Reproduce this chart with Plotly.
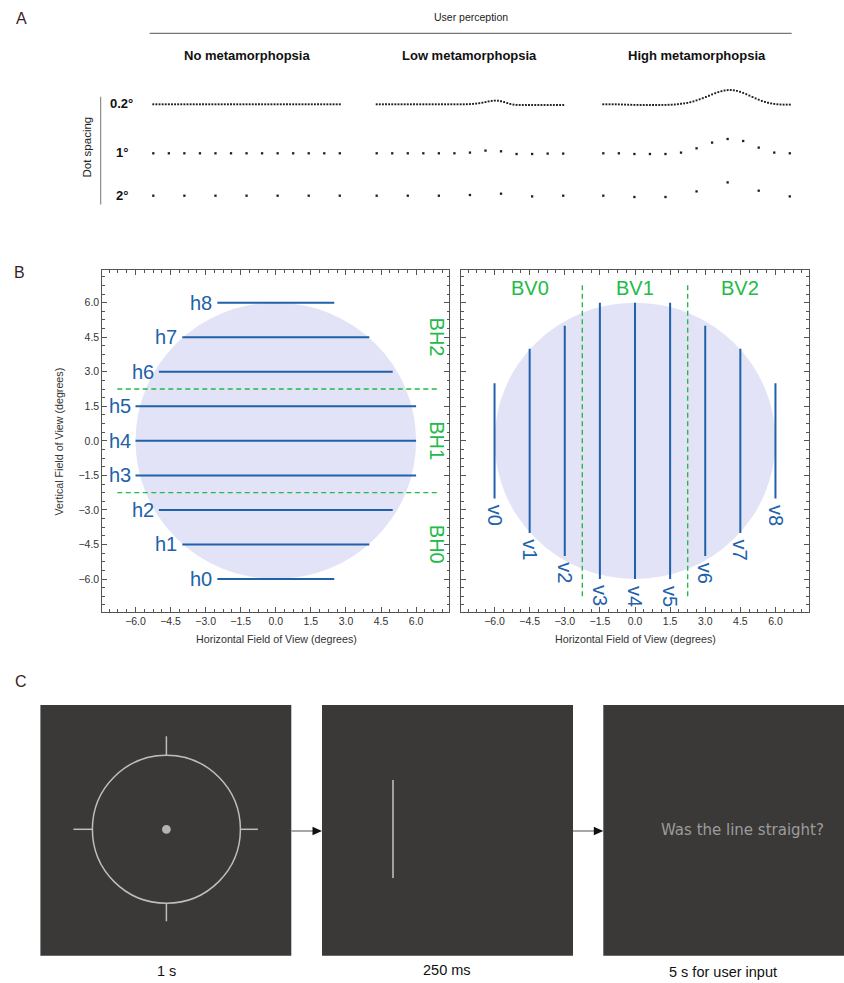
import plotly.graph_objects as go

W, H = 844, 983
def X(px): return px / W
def Y(py): return 1 - py / H

FONT = "Liberation Sans, Arial, Helvetica, sans-serif"

# ---------------- Panel A data ----------------
column_titles = ["No metamorphopsia", "Low metamorphopsia", "High metamorphopsia"]
spacing_labels = ["0.2°", "1°", "2°"]
dot_spacing = [0.2, 1.0, 2.0]          # degrees between dots
field_width = 12.0                      # degrees covered by each row

# perceived vertical displacement of each dot (px, upward positive)
no_02 = [0.0] * 61
no_1 = [0, 0, 0, 0, 0, 0, 0, 0, 0, 0, 0, 0, 0]
no_2 = [0, 0, 0, 0, 0, 0, 0]

low_02 = [0, 0, 0, 0, 0, 0, 0, 0, 0, 0,
          0, 0, 0, 0, 0, 0, 0, 0, 0, 0,
          0, 0, 0, 0, 0, 0, 0, 0, 0, 0.1,
          0.2, 0.4, 0.7, 1.1, 1.6, 2.2, 2.9, 3.4, 3.7, 3.6,
          3.1, 2.2, 1.2, 0.3, -0.3, -0.6, -0.7, -0.7, -0.7, -0.7,
          -0.7, -0.7, -0.7, -0.7, -0.7, -0.7, -0.7, -0.7, -0.7, -0.7,
          -0.7]
low_1 = [0, 0, 0, 0, 0, 0, 0.7, 2.7, 2.0, -0.7, -0.7, -0.3, -0.3]
low_2 = [0, 0, 0, 0.7, 2.0, -0.7, 0]

high_02 = [0, 0, 0, 0, 0, -0.1, -0.2, -0.3, -0.4, -0.5,
           -0.6, -0.6, -0.7, -0.7, -0.7, -0.7, -0.7, -0.7, -0.7, -0.6,
           -0.6, -0.5, -0.4, -0.2, 0.1, 0.5, 0.9, 1.4, 2.1, 2.9,
           3.9, 5.0, 6.1, 7.3, 8.6, 9.9, 11.1, 12.2, 13.1, 13.8,
           14.2, 14.3, 14.0, 13.4, 12.5, 11.4, 10.1, 8.7, 7.3, 5.9,
           4.6, 3.4, 2.4, 1.6, 0.9, 0.4, 0.0, -0.2, -0.3, -0.3,
           -0.3]
high_1 = [0, 0, -0.7, -0.7, -0.7, 0.7, 5.0, 10.7, 14.3, 12.3, 5.7, 0.7, 0]
high_2 = [0, -1.3, -1.3, 4.3, 13.3, 5.0, -0.7]

displacements = [[no_02, no_1, no_2], [low_02, low_1, low_2], [high_02, high_1, high_2]]

# ---------------- Panel B data ----------------
line_pos = [-6.0, -4.5, -3.0, -1.5, 0.0, 1.5, 3.0, 4.5, 6.0]
line_half_len = [2.5, 4.0, 5.0, 6.0, 6.0, 6.0, 5.0, 4.0, 2.5]
h_names = ["h0", "h1", "h2", "h3", "h4", "h5", "h6", "h7", "h8"]
v_names = ["v0", "v1", "v2", "v3", "v4", "v5", "v6", "v7", "v8"]
band_edges = [-2.25, 2.25]
band_centers = [-4.5, 0.0, 4.5]
bh_names = ["BH0", "BH1", "BH2"]
bv_names = ["BV0", "BV1", "BV2"]
field_radius = 6.0
tick_vals = [-6.0, -4.5, -3.0, -1.5, 0.0, 1.5, 3.0, 4.5, 6.0]

# ---------------- Panel C text ----------------
step_durations = ["1 s", "250 ms", "5 s for user input"]
question = "Was the line straight?"

BLUE = "#2161a9"
GREEN = "#22bb48"
LAV = "#e2e3f6"
DARK = "#3a3937"
LABELC = "#3b1e1e"

fig = go.Figure()
layout = dict(width=W, height=H, margin=dict(l=0, r=0, t=0, b=0),
              paper_bgcolor="white", plot_bgcolor="rgba(0,0,0,0)",
              showlegend=False, font=dict(family=FONT, color="#222"))

# ---- Panel A axes
col_start = [153.3, 376.7, 603.3]
col_w = 186.5
pad = col_w / field_width * 0.5
row_base = [104.3, 153.3, 195.7]
for c in range(3):
    key = "xaxis" if c == 0 else f"xaxis{c+1}"
    layout[key] = dict(domain=[X(col_start[c] - pad), X(col_start[c] + col_w + pad)],
                       range=[-0.5, 12.5], visible=False, anchor="y", fixedrange=True)
for r in range(3):
    key = "yaxis" if r == 0 else f"yaxis{r+1}"
    layout[key] = dict(domain=[Y(row_base[r] + 10), Y(row_base[r] - 20)],
                       range=[-10, 20], visible=False, anchor="x", fixedrange=True)

for c in range(3):
    for r in range(3):
        vals = displacements[c][r]
        xs = [i * dot_spacing[r] for i in range(len(vals))]
        fig.add_trace(go.Scatter(
            x=xs, y=vals, mode="markers",
            marker=dict(size=1.9 if r == 0 else 2.3, color="#1e1e1e", symbol="square"),
            xaxis="x" if c == 0 else f"x{c+1}",
            yaxis="y" if r == 0 else f"y{r+1}",
            cliponaxis=False, hoverinfo="skip"))

# ---- Panel B axes
xdomL = [X(102.3), X(449.3)]
xdomR = [X(461.3), X(808.7)]
ydomB = [Y(611.7), Y(270)]
base_ax = dict(range=[-7.42, 7.42], showline=True, linecolor="#555", linewidth=1,
               mirror="allticks", ticks="inside", ticklen=5, tickwidth=1, tickcolor="#555",
               tickvals=tick_vals, tickformat=".1f", showgrid=False, zeroline=False,
               tickfont=dict(family=FONT, size=10.5, color="#333"), fixedrange=True,
               minor=dict(dtick=0.375, tick0=0, ticks="inside", ticklen=2.5,
                          tickcolor="#555", tickwidth=1, showgrid=False))
layout["xaxis4"] = dict(base_ax, domain=xdomL, anchor="y4")
layout["yaxis4"] = dict(base_ax, domain=ydomB, anchor="x4")
layout["xaxis5"] = dict(base_ax, domain=xdomR, anchor="y5")
layout["yaxis5"] = dict(base_ax, domain=ydomB, anchor="x5", showticklabels=False)

shapes = []
annotations = []

def ann(text, x, y, size, color="#222", xref="paper", yref="paper", bold=False,
        angle=0, xanchor="center", yanchor="middle", family=FONT, xshift=0, yshift=0):
    annotations.append(dict(text=f"<b>{text}</b>" if bold else text, x=x, y=y,
                            xref=xref, yref=yref, showarrow=False, textangle=angle,
                            xanchor=xanchor, yanchor=yanchor, xshift=xshift, yshift=yshift,
                            font=dict(size=size, color=color, family=family)))

# field of view discs
for xa, ya in (("x4", "y4"), ("x5", "y5")):
    shapes.append(dict(type="circle", xref=xa, yref=ya, x0=-field_radius, x1=field_radius,
                       y0=-field_radius, y1=field_radius, fillcolor=LAV,
                       line=dict(width=0), layer="below"))

# horizontal lines (left)
for name, yv, hl in zip(h_names, line_pos, line_half_len):
    fig.add_trace(go.Scatter(x=[-hl, hl], y=[yv, yv], mode="lines",
                             line=dict(color=BLUE, width=2), xaxis="x4", yaxis="y4",
                             hoverinfo="skip"))
    ann(name, -hl, yv, 20, BLUE, xref="x4", yref="y4", xanchor="right", xshift=-3)
for e in band_edges:
    fig.add_trace(go.Scatter(x=[-6.78, 7.0], y=[e, e], mode="lines",
                             line=dict(color=GREEN, width=1.4, dash="5px,3.5px"),
                             xaxis="x4", yaxis="y4", hoverinfo="skip"))
for name, cy in zip(bh_names, band_centers):
    ann(name, 6.88, cy, 20, GREEN, xref="x4", yref="y4", angle=90)

# vertical lines (right)
for name, xv, hl in zip(v_names, line_pos, line_half_len):
    fig.add_trace(go.Scatter(x=[xv, xv], y=[-hl, hl], mode="lines",
                             line=dict(color=BLUE, width=2), xaxis="x5", yaxis="y5",
                             hoverinfo="skip"))
    ann(name, xv, -hl, 20, BLUE, xref="x5", yref="y5", angle=90, yshift=-17)
for e in band_edges:
    fig.add_trace(go.Scatter(x=[e, e], y=[-6.75, 6.78], mode="lines",
                             line=dict(color=GREEN, width=1.4, dash="5px,3.5px"),
                             xaxis="x5", yaxis="y5", hoverinfo="skip"))
for name, cx in zip(bv_names, band_centers):
    ann(name, cx, 6.62, 20, GREEN, xref="x5", yref="y5")

# axis titles
ann("Horizontal Field of View (degrees)", X(276), Y(639), 10.7, "#333")
ann("Horizontal Field of View (degrees)", X(635), Y(639), 10.7, "#333")
ann("Vertical Field of View (degrees)", X(58.5), Y(441), 10.7, "#333", angle=-90)

# ---- Panel A annotations / decorations
ann("A", X(21), Y(18.5), 16, LABELC)
ann("B", X(19), Y(272), 16, LABELC)
ann("C", X(20.5), Y(681), 16, LABELC)
ann("User perception", X(471), Y(17.5), 10.5, "#222")
shapes.append(dict(type="line", xref="paper", yref="paper", x0=X(149.7), x1=X(791.6),
                   y0=Y(33.3), y1=Y(33.3), line=dict(color="#555", width=1)))
for c in range(3):
    ann(column_titles[c], X(col_start[c] + col_w / 2), Y(56), 13, "#111", bold=True)
for r in range(3):
    ann(spacing_labels[r], X(121.5), Y(row_base[r] - 0.5), 13, "#111", bold=True)
shapes.append(dict(type="line", xref="paper", yref="paper", x0=X(100.7), x1=X(100.7),
                   y0=Y(96.7), y1=Y(204.5), line=dict(color="#777", width=1)))
ann("Dot spacing", X(86.5), Y(147), 11.5, "#222", angle=-90)

# ---- Panel C
rects = [(40.4, 291.3), (322.0, 573.0), (603.3, 845.0)]
for x0, x1 in rects:
    shapes.append(dict(type="rect", xref="paper", yref="paper", x0=X(x0), x1=X(x1),
                       y0=Y(955.7), y1=Y(705), fillcolor=DARK, line=dict(width=0),
                       layer="above"))
cx, cy, rad = 166.4, 829.3, 74.0
GRAYL = "#bdbdbd"
shapes.append(dict(type="circle", xref="paper", yref="paper", x0=X(cx - rad), x1=X(cx + rad),
                   y0=Y(cy + rad), y1=Y(cy - rad), line=dict(color=GRAYL, width=1.5),
                   layer="above"))
shapes.append(dict(type="circle", xref="paper", yref="paper", x0=X(cx - 4.4), x1=X(cx + 4.4),
                   y0=Y(cy + 4.4), y1=Y(cy - 4.4), fillcolor="#b4b4b4",
                   line=dict(width=0), layer="above"))
for (ax0, ay0, ax1, ay1) in [(cx, cy - rad - 19, cx, cy - rad), (cx, cy + rad, cx, cy + rad + 18),
                             (cx - rad - 19, cy, cx - rad, cy), (cx + rad, cy, cx + rad + 17.5, cy)]:
    shapes.append(dict(type="line", xref="paper", yref="paper", x0=X(ax0), x1=X(ax1),
                       y0=Y(ay0), y1=Y(ay1), line=dict(color=GRAYL, width=1.5), layer="above"))
shapes.append(dict(type="line", xref="paper", yref="paper", x0=X(393), x1=X(393),
                   y0=Y(780), y1=Y(878), line=dict(color="#c4c4c4", width=1.5), layer="above"))
for (ax0, ax1) in [(291.3, 322.0), (573.0, 603.3)]:
    ay = 831.0
    shapes.append(dict(type="line", xref="paper", yref="paper", x0=X(ax0), x1=X(ax1 - 8),
                       y0=Y(ay), y1=Y(ay), line=dict(color="#8a8a8a", width=1.5), layer="above"))
    path = f"M {X(ax1 - 9.5)},{Y(ay - 4.3)} L {X(ax1)},{Y(ay)} L {X(ax1 - 9.5)},{Y(ay + 4.3)} Z"
    shapes.append(dict(type="path", xref="paper", yref="paper", path=path,
                       fillcolor="#111", line=dict(width=0), layer="above"))
ann(question, X(742), Y(829.5), 15, "#9c9c9c", family="DejaVu Sans, Verdana, sans-serif")
ann(step_durations[0], X(166), Y(970.5), 14.5, "#111")
ann(step_durations[1], X(447), Y(970), 14.5, "#111")
ann(step_durations[2], X(722.5), Y(971.5), 14.5, "#111")

layout["shapes"] = shapes
layout["annotations"] = annotations
fig.update_layout(**layout)
fig.write_html("out.html", config={"staticPlot": True},
               post_script="document.body.style.margin='0';document.body.style.padding='0';"
                           "document.body.style.overflow='hidden';")
